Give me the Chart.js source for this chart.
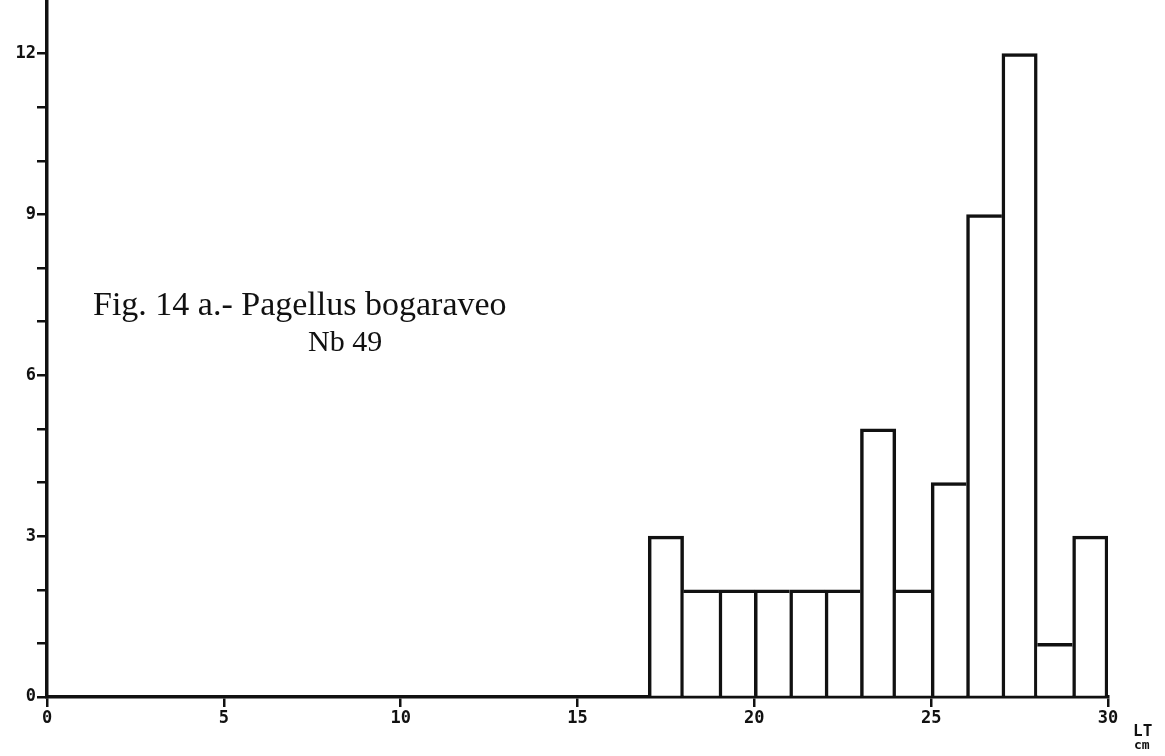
<!DOCTYPE html>
<html lang="es">
<head>
  <meta charset="UTF-8">
  <script src="https://cdn.jsdelivr.net/npm/chart.js"></script>
  <title>Fig. 14 a.- Pagellus bogaraveo</title>
  <style>
    html, body { margin: 0; padding: 0; background: #fff; }
    canvas { display: block; }
  </style>
</head>
<body>

<canvas id="histo" width="1165" height="756"></canvas>

<script>
  // talla total (cm), clases de 1 cm
  const clases = [17, 18, 19, 20, 21, 22, 23, 24, 25, 26, 27, 28, 29];
  const frecuencias = [3, 2, 2, 2, 2, 2, 5, 2, 4, 9, 12, 1, 3];
  const ticksX = [0, 5, 10, 15, 20, 25, 30];
  const ticksYEtiquetas = [0, 3, 6, 9, 12];

  const tinta = '#111';
  const grosor = 3.5;
  const fuenteEje = { family: 'DejaVu Sans Mono', size: 17, weight: 'bold' };

  // borde por lado: la línea entre dos barras la pone la más alta
  function bordes(ctx) {
    const i = ctx.dataIndex;
    const v = frecuencias[i];
    const prev = i > 0 ? frecuencias[i - 1] : null;
    const next = i < frecuencias.length - 1 ? frecuencias[i + 1] : null;
    return {
      top: grosor,
      left: (prev === null || prev <= v) ? grosor : 0,
      right: (next === null || next < v) ? grosor : 0,
      bottom: 0
    };
  }

  const textos = {
    id: 'textos',
    afterDraw(chart) {
      const c = chart.ctx;
      c.save();
      c.fillStyle = tinta;
      c.textBaseline = 'alphabetic';
      c.font = '34px "Liberation Serif"';
      c.fillText('Fig. 14 a.- Pagellus bogaraveo', 93, 315);
      c.font = '30px "Liberation Serif"';
      c.fillText('Nb 49', 308, 351);
      c.font = 'bold 16px "DejaVu Sans Mono"';
      c.fillText('LT', 1133, 736);
      c.font = 'bold 13px "DejaVu Sans Mono"';
      c.fillText('cm', 1134, 749);
      c.restore();
    }
  };

  const datos = clases.map((c, i) => ({ x: c + 0.5, y: frecuencias[i] }));

  new Chart(document.getElementById('histo'), {
    type: 'bar',
    data: {
      datasets: [{
        data: datos,
        backgroundColor: '#fff',
        borderColor: tinta,
        borderWidth: bordes,
        borderSkipped: false,
        barPercentage: 1,
        categoryPercentage: 1
      }]
    },
    options: {
      responsive: false,
      animation: false,
      layout: { padding: { top: 0, right: 57, left: 0, bottom: 0 } },
      plugins: {
        legend: { display: false },
        tooltip: { enabled: false }
      },
      scales: {
        x: {
          type: 'linear',
          min: 0,
          max: 30,
          offset: false,
          afterBuildTicks: s => { s.ticks = ticksX.map(v => ({ value: v })); },
          afterFit: s => { s.height = 59; },
          grid: { offset: false, drawOnChartArea: false, drawTicks: true, tickLength: 10, color: tinta, lineWidth: 2.5 },
          border: { color: tinta, width: grosor },
          ticks: { color: tinta, font: fuenteEje, padding: 1, maxRotation: 0 }
        },
        y: {
          min: 0,
          max: 13,
          afterBuildTicks: s => {
            const t = [];
            for (let v = 0; v <= 12; v++) t.push({ value: v });
            s.ticks = t;
          },
          afterFit: s => {
            s.width = 47;
            s.paddingTop = 0;
            s.paddingBottom = 0;
          },
          grid: { drawOnChartArea: false, drawTicks: true, tickLength: 10, color: tinta, lineWidth: 2.5 },
          border: { color: tinta, width: grosor },
          ticks: {
            color: tinta,
            font: fuenteEje,
            padding: 1,
            callback: v => ticksYEtiquetas.includes(v) ? String(v) : ''
          }
        }
      }
    },
    plugins: [textos]
  });
</script>

</body>
</html>
